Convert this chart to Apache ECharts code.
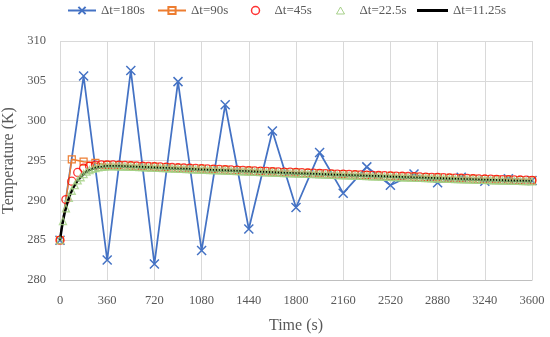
<!DOCTYPE html>
<html>
<head>
<meta charset="utf-8">
<script src="https://cdn.jsdelivr.net/npm/echarts@6/dist/echarts.min.js"></script>
<style>html,body{margin:0;padding:0;background:#fff;}#c{width:550px;height:337px;}</style>
</head>
<body>
<div id="c"></div>
<script>
// ---- data ----
const names = ['Δt=180s', 'Δt=90s', 'Δt=45s', 'Δt=22.5s', 'Δt=11.25s'];
const xTicks = [0, 360, 720, 1080, 1440, 1800, 2160, 2520, 2880, 3240, 3600];

const step180 = 180;
const T180 = [285, 305.6, 282.5, 306.3, 282.0, 304.9, 283.7, 302.0, 286.4, 298.7, 289.1,
  296.0, 290.9, 294.2, 291.9, 293.3, 292.2, 292.9, 292.4, 292.7, 292.5];

const step90 = 90;
const T90 = [285, 295.15, 294.85, 294.7, 294.45, 294.41, 294.35, 294.28, 294.22, 294.16, 294.09,
  294.03, 293.97, 293.91, 293.85, 293.79, 293.73, 293.67, 293.61, 293.55, 293.5,
  293.44, 293.38, 293.33, 293.28, 293.22, 293.17, 293.12, 293.07, 293.02, 292.97,
  292.92, 292.87, 292.82, 292.77, 292.72, 292.68, 292.63, 292.59, 292.55, 292.51];

const step45 = 45;
const T45 = [285, 290.1, 292.4, 293.5, 294.05, 294.3, 294.42, 294.46,
  294.45, 294.44, 294.41, 294.38, 294.35, 294.31, 294.28, 294.25,
  294.22, 294.19, 294.16, 294.12, 294.09, 294.06, 294.03, 294.0,
  293.97, 293.94, 293.91, 293.88, 293.85, 293.82, 293.79, 293.76,
  293.73, 293.7, 293.67, 293.64, 293.61, 293.58, 293.55, 293.53,
  293.5, 293.47, 293.44, 293.41, 293.38, 293.36, 293.33, 293.3,
  293.28, 293.25, 293.22, 293.2, 293.17, 293.14, 293.12, 293.09,
  293.07, 293.04, 293.02, 292.99, 292.97, 292.94, 292.92, 292.89,
  292.87, 292.84, 292.82, 292.8, 292.77, 292.75, 292.72, 292.7,
  292.68, 292.66, 292.63, 292.61, 292.59, 292.57, 292.55, 292.53,
  292.51];

const step22 = 22.5;
const T22 = [
  285.0, 287.4, 289.0, 290.3, 291.2, 291.9, 292.5, 292.9, 293.3, 293.6, 293.8, 293.95, 294.05, 294.15, 294.2, 294.25,
  294.28, 294.29, 294.29, 294.28, 294.27, 294.26, 294.25, 294.23, 294.22, 294.2, 294.19, 294.17, 294.16, 294.14, 294.13, 294.11,
  294.1, 294.08, 294.07, 294.05, 294.04, 294.02, 294.0, 293.99, 293.97, 293.96, 293.94, 293.93, 293.91, 293.9, 293.88, 293.87,
  293.85, 293.84, 293.82, 293.81, 293.79, 293.78, 293.76, 293.75, 293.73, 293.72, 293.7, 293.69, 293.67, 293.66, 293.64, 293.63,
  293.61, 293.6, 293.58, 293.57, 293.55, 293.54, 293.52, 293.51, 293.49, 293.48, 293.46, 293.45, 293.43, 293.42, 293.41, 293.39,
  293.38, 293.36, 293.35, 293.33, 293.32, 293.31, 293.29, 293.28, 293.26, 293.25, 293.24, 293.22, 293.21, 293.2, 293.18, 293.17,
  293.16, 293.14, 293.13, 293.12, 293.1, 293.09, 293.08, 293.06, 293.05, 293.04, 293.02, 293.01, 293.0, 292.98, 292.97, 292.96,
  292.95, 292.93, 292.92, 292.91, 292.9, 292.88, 292.87, 292.86, 292.85, 292.83, 292.82, 292.81, 292.8, 292.78, 292.77, 292.76,
  292.75, 292.74, 292.72, 292.71, 292.7, 292.69, 292.68, 292.66, 292.65, 292.64, 292.63, 292.62, 292.6, 292.59, 292.58, 292.57,
  292.56, 292.55, 292.54, 292.52, 292.51, 292.5, 292.49, 292.48, 292.47, 292.46, 292.45, 292.44, 292.43, 292.42, 292.41, 292.4,
  292.39];

const tBlack = [0, 11.25, 22.5, 33.75, 45, 56.25, 67.5, 78.75, 90, 101.25, 112.5, 123.75, 135, 146.25,
  157.5, 168.75, 180, 191.25, 202.5, 213.75, 225, 236.25, 247.5, 258.75, 270, 281.25, 292.5,
  303.75, 315, 326.25, 337.5, 348.75, 360, 450, 540, 630, 720, 810, 900, 990, 1080, 1170, 1260,
  1350, 1440, 1530, 1620, 1710, 1800, 1890, 1980, 2070, 2160, 2250, 2340, 2430, 2520, 2610, 2700,
  2790, 2880, 2970, 3060, 3150, 3240, 3330, 3420, 3510, 3600];
const TBlack = [285, 286.3, 287.4, 288.3, 289.0, 289.7, 290.3, 290.8, 291.2, 291.6, 291.9, 292.2, 292.5, 292.7,
  292.9, 293.1, 293.3, 293.45, 293.6, 293.7, 293.8, 293.88, 293.95, 294.0, 294.05, 294.1, 294.15,
  294.18, 294.2, 294.23, 294.25, 294.27, 294.28, 294.27, 294.22, 294.16, 294.1, 294.04, 293.97, 293.91, 293.85, 293.79, 293.73,
  293.67, 293.61, 293.55, 293.49, 293.43, 293.38, 293.33, 293.27, 293.22, 293.16, 293.11, 293.06, 293.01, 292.95, 292.9, 292.85,
  292.8, 292.75, 292.7, 292.65, 292.61, 292.56, 292.51, 292.47, 292.43, 292.39];

const pairs = (step, vals) => vals.map((v, i) => [i * step, v]);

// ---- chart ----
const font = '"Liberation Serif", "DejaVu Serif", serif';
const txt = '#595959';
const chart = echarts.init(document.getElementById('c'), null, {renderer: 'canvas'});
const legendBase = {top: -1, itemWidth: 28, itemHeight: 9, textStyle: {fontFamily: font, fontSize: 13, color: txt}, selectedMode: false};
chart.setOption({
  animation: false,
  backgroundColor: '#fff',
  legend: [
    Object.assign({}, legendBase, {left: 62, data: [names[0]]}),
    Object.assign({}, legendBase, {left: 152, data: [names[1]]}),
    Object.assign({}, legendBase, {left: 244, itemWidth: 8, itemHeight: 8,
      textStyle: {fontFamily: font, fontSize: 13, color: txt, padding: [0, 0, 0, 10]},
      data: [{name: names[2], icon: 'circle', itemStyle: {color: 'none', borderColor: '#FF0000', borderWidth: 1.5}}]}),
    Object.assign({}, legendBase, {left: 329, itemWidth: 8, itemHeight: 7,
      textStyle: {fontFamily: font, fontSize: 13, color: txt, padding: [0, 0, 0, 10]},
      data: [{name: names[3], icon: 'triangle', itemStyle: {color: 'none', borderColor: '#92C56E', borderWidth: 1}}]}),
    Object.assign({}, legendBase, {left: 412, itemWidth: 31, itemHeight: 3,
      data: [{name: names[4], icon: 'rect', itemStyle: {color: '#000'}}]})
  ],
  grid: {left: 60, right: 18, top: 41, bottom: 57, containLabel: false, outerBoundsMode: 'none'},
  xAxis: {
    type: 'value', min: xTicks[0], max: xTicks[xTicks.length - 1], interval: 360,
    name: 'Time (s)', nameLocation: 'middle', nameGap: 38,
    nameTextStyle: {fontFamily: font, fontSize: 16, color: txt},
    axisLine: {show: true, lineStyle: {color: '#BFBFBF', width: 1}},
    axisTick: {show: false},
    axisLabel: {fontFamily: font, fontSize: 12.5, color: txt, margin: 14, formatter: v => String(v)},
    splitLine: {show: true, lineStyle: {color: '#D9D9D9', width: 1}}
  },
  yAxis: {
    type: 'value', min: 280, max: 310, interval: 5,
    name: 'Temperature (K)', nameLocation: 'middle', nameGap: 33,
    nameTextStyle: {fontFamily: font, fontSize: 16, color: txt},
    axisLine: {show: false},
    axisTick: {show: false},
    axisLabel: {fontFamily: font, fontSize: 12.5, color: txt, margin: 14},
    splitLine: {show: true, lineStyle: {color: '#D9D9D9', width: 1}}
  },
  series: [
    {
      name: names[0], type: 'line', data: pairs(step180, T180),
      symbol: 'path://M0,0L10,10M10,0L0,10', symbolSize: 9,
      lineStyle: {color: '#4472C4', width: 1.75},
      itemStyle: {color: 'none', borderColor: '#4472C4', borderWidth: 1.5},
      emphasis: {disabled: true}, z: 2
    },
    {
      name: names[1], type: 'line', data: pairs(step90, T90),
      symbol: 'rect', symbolSize: 7,
      lineStyle: {color: '#ED7D31', width: 1.5},
      itemStyle: {color: 'none', borderColor: '#ED7D31', borderWidth: 1.2},
      emphasis: {disabled: true}, z: 3
    },
    {
      name: names[2], type: 'scatter', data: pairs(step45, T45),
      symbol: 'circle', symbolSize: 8,
      itemStyle: {color: 'none', borderColor: '#FF0000', borderWidth: 1.3},
      emphasis: {disabled: true}, z: 4
    },
    {
      name: names[4], type: 'line', data: tBlack.map((t, i) => [t, TBlack[i]]),
      showSymbol: false, symbol: 'none',
      lineStyle: {color: '#000000', width: 2.5},
      itemStyle: {color: '#000000'},
      emphasis: {disabled: true}, z: 5
    },
    {
      name: names[3], type: 'scatter', data: pairs(step22, T22),
      symbol: 'triangle', symbolSize: 7,
      itemStyle: {color: 'none', borderColor: '#A3D083', borderWidth: 1.3},
      emphasis: {disabled: true}, z: 6
    }
  ]
});
</script>
</body>
</html>
